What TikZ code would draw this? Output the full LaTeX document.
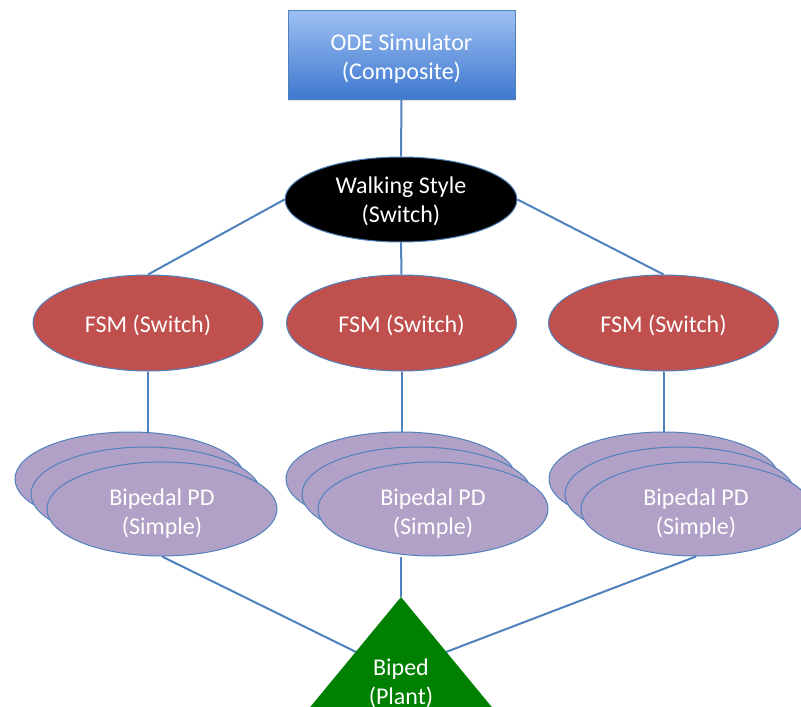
\documentclass[tikz,border=0pt]{standalone}
\usepackage{fontspec}
\setmainfont{Carlito}
\usetikzlibrary{shapes.geometric,shadows}
\pgfdeclarelayer{background}
\pgfsetlayers{background,main}

\definecolor{linkblue}{HTML}{4F81BD}
\definecolor{boxtop}{HTML}{9DC0F2}
\definecolor{boxbot}{HTML}{3F78CF}
\definecolor{fsmred}{HTML}{C0504D}
\definecolor{pdlilac}{HTML}{B2A1C7}
\definecolor{plantgreen}{HTML}{008000}

\tikzset{
  base/.style={text=white, font=\fontsize{24}{29}\selectfont, align=center, inner sep=0pt},
  simbox/.style={draw=linkblue, line width=0.8pt, top color=boxtop, bottom color=boxbot,
    minimum width=227pt, minimum height=89pt,
    drop shadow={opacity=0.25, shadow xshift=0pt, shadow yshift=-2pt}},
  switchnode/.style={ellipse, draw=linkblue, line width=1pt, fill=black,
    minimum width=232pt, minimum height=85pt},
  fsmnode/.style={ellipse, draw=linkblue, line width=1pt, fill=fsmred,
    minimum width=230pt, minimum height=96pt},
  pdnode/.style={ellipse, draw=linkblue, line width=1pt, fill=pdlilac,
    minimum width=230pt, minimum height=94pt},
  link/.style={draw=linkblue, line width=2pt},
}

\begin{document}
\begin{tikzpicture}[x=1pt, y=-1pt]
  \useasboundingbox (0,0) rectangle (801,707);
  \clip (0,0) rectangle (801,707);

  % controller hierarchy
  \node[simbox] (sim) at (401.5,54.5) {};
  \node[base] (simtext) at ([yshift=-4pt]sim.center) {ODE Simulator\\(Composite)};
  \node[switchnode] (walk) at (401,199.5) {};
  \node[base] (walktext) at ([yshift=-2pt]walk.center) {Walking Style\\(Switch)};

  \foreach \s/\cx in {L/148, M/401.5, R/663.5}{
    \node[fsmnode] (fsm\s) at (\cx,323) {};
    \node[base] (fsm\s text) at ([yshift=-2pt]fsm\s.center) {FSM (Switch)};
  }

  % stacked PD controllers, back to front
  \foreach \s/\cx in {L/130, M/401, R/664}{
    \node[pdnode] (pd\s1) at (\cx,479) {};
    \node[pdnode] (pd\s2) at (\cx+16,494) {};
    \node[pdnode] (pd\s3) at (\cx+32,509) {};
    \node[base] (pd\s text) at ([yshift=-5pt]pd\s3.center) {Bipedal PD\\(Simple)};
  }

  % plant
  \coordinate (apex) at (401,597);
  \fill[plantgreen] (apex) -- (250,780) -- (552,780) -- cycle;
  \node[base] (plant) at (401,683.5) {Biped\\(Plant)};
  \coordinate (plantL) at (356,652);
  \coordinate (plantR) at (446,652);

  % connectors
  \begin{pgfonlayer}{background}
    \draw[link] (sim.south) -- (walk.north);
    \draw[link] (walk.west) -- (fsmL.north);
    \draw[link] (walk.south) -- (fsmM.north);
    \draw[link] (walk.east) -- (fsmR.north);
    \draw[link] (fsmL.south) -- (fsmL.south |- pdL1.north);
    \draw[link] (fsmM.south) -- (fsmM.south |- pdM1.north);
    \draw[link] (fsmR.south) -- (fsmR.south |- pdR1.north);
    \draw[link] (pdL3.south) -- (plantL);
    \draw[link] (apex |- pdM3.south) -- (apex);
    \draw[link] (pdR3.south) -- (plantR);
  \end{pgfonlayer}
\end{tikzpicture}
\end{document}
